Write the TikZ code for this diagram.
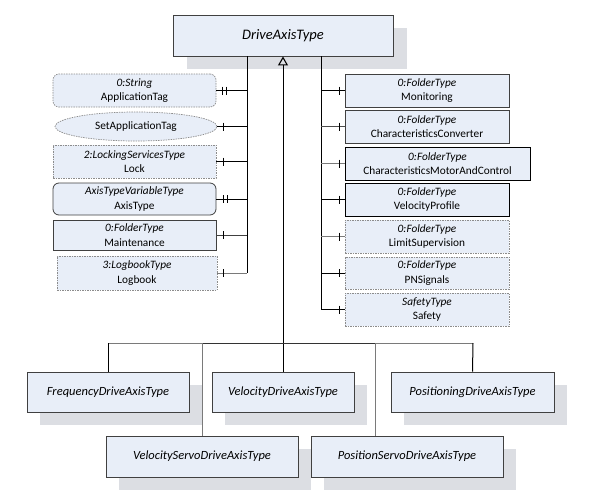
\documentclass[tikz,border=0pt]{standalone}
\usepackage{fontspec}
\setmainfont{Carlito}
\usetikzlibrary{arrows.meta,shadows,shapes.geometric}
\definecolor{boxfill}{HTML}{E8EEF8}
\definecolor{boxline}{HTML}{404040}
\definecolor{dashline}{HTML}{8C8C8C}
\definecolor{shadowc}{HTML}{DCDEE3}
\definecolor{lightconn}{HTML}{7A7A7A}
\tikzset{
  mainbox/.style={draw=boxline, fill=boxfill, line width=0.9pt,
    general shadow={fill=shadowc, shadow xshift=14pt, shadow yshift=-13pt},
    font=\fontsize{14.5}{16}\selectfont\itshape, minimum width=220pt, minimum height=41pt, inner sep=0pt},
  subbox/.style={draw=boxline, fill=boxfill, line width=0.9pt,
    general shadow={fill=shadowc, shadow xshift=13pt, shadow yshift=-13pt},
    font=\fontsize{12.5}{14}\selectfont\itshape, minimum height=40pt, inner sep=0pt},
  memb/.style={draw=boxline, fill=boxfill, line width=0.8pt, align=center,
    font=\fontsize{11.3}{14.5}\selectfont, inner sep=0pt, minimum height=33pt},
  membdash/.style={memb, draw=dashline, line width=0.7pt, dash pattern=on 1.5pt off 1pt},
  membround/.style={memb, rounded corners=6pt},
  conn/.style={line width=1pt, draw=black},
  connlight/.style={line width=1pt, draw=lightconn},
  tick/.style={line width=0.8pt, draw=black}
}
\begin{document}
\begin{tikzpicture}[x=1pt,y=-1pt]
\useasboundingbox (0,0) rectangle (600,499);

% main type
\node[mainbox] (main) at (283,35.5) {DriveAxisType};

% left members
\node[membdash, rounded corners=6pt, minimum width=163pt] (app) at (134.5,90.5) {\textit{0:String}\\ApplicationTag};
\node[ellipse, draw=dashline, line width=0.7pt, dash pattern=on 1.5pt off 1pt, fill=boxfill,
      minimum width=162pt, minimum height=29pt, inner sep=0pt, font=\fontsize{11.3}{14.5}\selectfont] (setapp) at (136,126.5) {SetApplicationTag};
\node[membdash, minimum width=163pt] (lock) at (134.5,161.5) {\textit{2:LockingServicesType}\\Lock};
\node[membround, minimum width=163pt, minimum height=32pt] (axis) at (134.5,199) {\textit{AxisTypeVariableType}\\AxisType};
\node[memb, minimum width=163pt, minimum height=30pt] (maint) at (134.5,235) {\textit{0:FolderType}\\Maintenance};
\node[membdash, minimum width=160pt, minimum height=34pt] (logb) at (137,273) {\textit{3:LogbookType}\\Logbook};

% right members
\node[memb, minimum width=164pt] (monit) at (427,90.5) {\textit{0:FolderType}\\Monitoring};
\node[memb, minimum width=164pt] (charconv) at (427,126.5) {\textit{0:FolderType}\\CharacteristicsConverter};
\node[memb, draw=black, minimum width=185pt] (charmot) at (437.5,163.5) {\textit{0:FolderType}\\CharacteristicsMotorAndControl};
\node[memb, draw=black, minimum width=164pt] (velprof) at (427,199.5) {\textit{0:FolderType}\\VelocityProfile};
\node[membdash, minimum width=164pt] (limsup) at (427,236.5) {\textit{0:FolderType}\\LimitSupervision};
\node[membdash, minimum width=164pt, minimum height=32pt] (pnsig) at (427,273) {\textit{0:FolderType}\\PNSignals};
\node[membdash, minimum width=164pt] (safety) at (427,309.5) {\textit{SafetyType}\\Safety};

% subtypes
\node[subbox, minimum width=162pt] (freq) at (108,392) {FrequencyDriveAxisType};
\node[subbox, minimum width=142pt] (vel) at (283,392) {VelocityDriveAxisType};
\node[subbox, minimum width=163pt] (pos) at (472.5,392) {PositioningDriveAxisType};
\node[subbox, minimum width=192pt, minimum height=41pt] (velservo) at (202,456.5) {VelocityServoDriveAxisType};
\node[subbox, minimum width=192pt, minimum height=41pt] (posservo) at (407,456.5) {PositionServoDriveAxisType};

% bus coordinates
\coordinate (lbus) at (247,273);
\coordinate (rbus) at (321,309.5);
\coordinate (bl) at (108,343);
\coordinate (bvs) at (202,343);
\coordinate (bm) at (283,343);
\coordinate (bps) at (375,343);
\coordinate (br) at (473,343);

% left bus
\draw[conn] (main.south -| lbus) -- (lbus);
\draw[conn] (app.east) -- (app.east -| lbus);
\draw[conn] (setapp.east) -- (setapp.east -| lbus);
\draw[conn] (lock.east) -- (lock.east -| lbus);
\draw[conn] (axis.east) -- (axis.east -| lbus);
\draw[conn, draw=black!75] (maint.east) -- (maint.east -| lbus);
\draw[connlight] (logb.east) -- (lbus);
% left ticks
\draw[tick] ([xshift=6.5pt]app.east) ++(0,-4) -- ++(0,8);
\draw[tick] ([xshift=10.5pt]app.east) ++(0,-4) -- ++(0,8);
\draw[tick] ([xshift=6.5pt]setapp.east) ++(0,-4) -- ++(0,8);
\draw[tick] ([xshift=7pt]lock.east) ++(0,-4) -- ++(0,8);
\draw[tick] ([xshift=6.5pt]axis.east) ++(0,-4) -- ++(0,8);
\draw[tick] ([xshift=10.5pt]axis.east) ++(0,-4) -- ++(0,8);
\draw[tick] ([xshift=7pt]maint.east) ++(0,-4) -- ++(0,8);
\draw[tick] ([xshift=6pt]logb.east) ++(0,-4) -- ++(0,8);

% right bus
\draw[conn] (main.south -| rbus) -- (rbus);
\draw[conn] (monit.west) -- (monit.west -| rbus);
\draw[conn, draw=black!70] (charconv.west) -- (charconv.west -| rbus);
\draw[connlight] (charmot.west) -- (charmot.west -| rbus);
\draw[conn] (velprof.west) -- (velprof.west -| rbus);
\draw[connlight] (limsup.west) -- (limsup.west -| rbus);
\draw[conn] (pnsig.west) -- (pnsig.west -| rbus);
\draw[conn] (safety.west) -- (rbus);
% right ticks
\draw[tick] ([xshift=-5pt]monit.west) ++(0,-4) -- ++(0,8);
\draw[tick] ([xshift=-5pt]charconv.west) ++(0,-4) -- ++(0,8);
\draw[tick] ([xshift=-5pt]charmot.west) ++(0,-4) -- ++(0,8);
\draw[tick] ([xshift=-5pt]velprof.west) ++(0,-4) -- ++(0,8);
\draw[tick] ([xshift=-5pt]limsup.west) ++(0,-4) -- ++(0,8);
\draw[tick] ([xshift=-5pt]pnsig.west) ++(0,-4) -- ++(0,8);
\draw[tick] ([xshift=-5pt]safety.west) ++(0,-4) -- ++(0,8);

% inheritance
\draw[conn, -{Triangle[open, length=9pt, width=10pt, line width=1.1pt]}] (vel.north) -- (main.south);
\draw[connlight] (bl) -- (bvs);
\draw[conn, draw=black!80] (bvs) -- (bps);
\draw[connlight] (bps) -- (br);
\draw[conn] (freq.north) -- (bl);
\draw[conn] (pos.north) -- (br);
\draw[connlight] (velservo.north) -- (bvs);
\draw[connlight] (posservo.north -| bps) -- (bps);
\end{tikzpicture}
\end{document}
